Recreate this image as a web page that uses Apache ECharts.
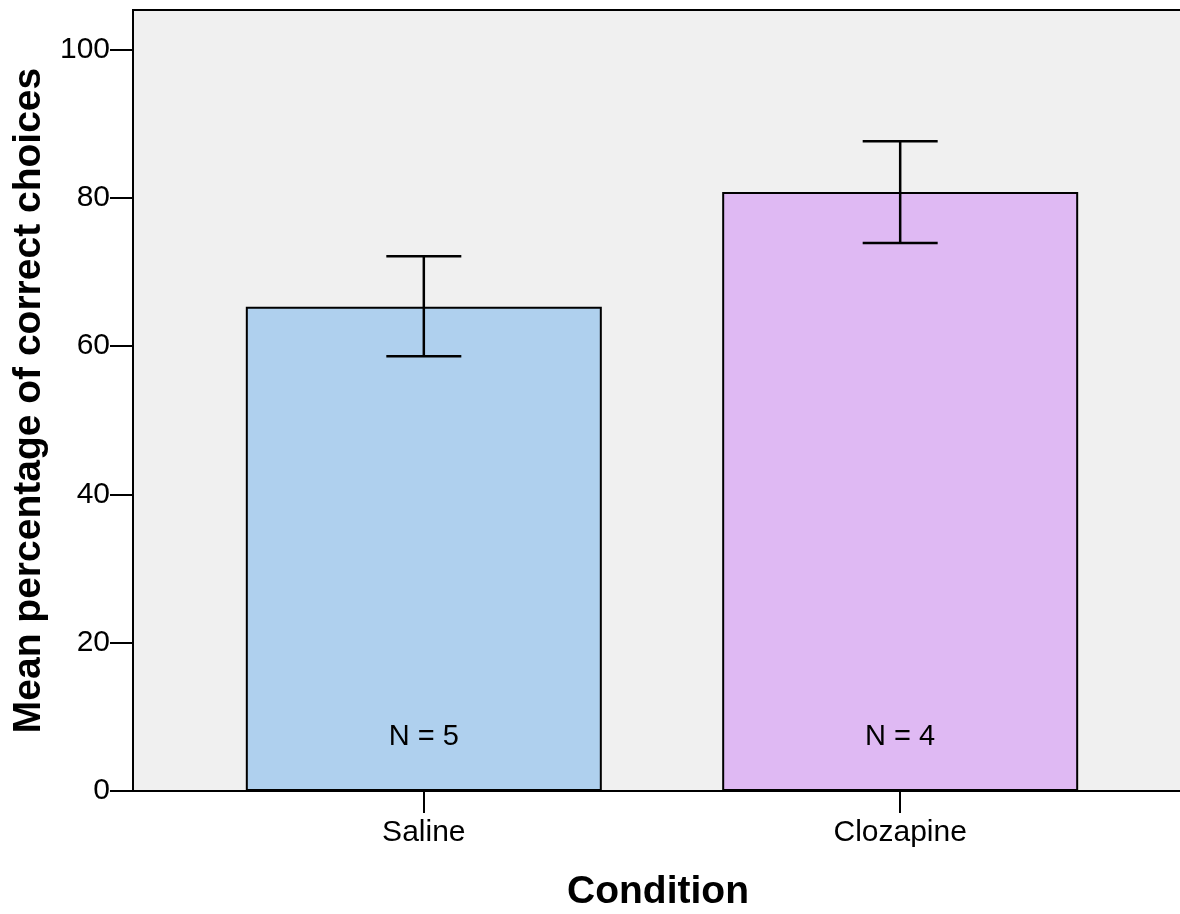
<!DOCTYPE html>
<html><head><meta charset="utf-8">
<script src="https://cdn.jsdelivr.net/npm/echarts@6/dist/echarts.min.js"></script>
<style>html,body{margin:0;padding:0;background:#fff}#c{width:1180px;height:914px}</style>
</head><body><div id="c"></div>
<script>
const categories = ['Saline', 'Clozapine'];
const means = [65.3, 80.75];
const errLow = [58.6, 73.9];
const errHigh = [72.1, 87.6];
const nLabels = ['N = 5', 'N = 4'];
const barColors = ['#AFD0EE', '#DFB9F3'];
const yTicks = [0, 20, 40, 60, 80, 100];

const chart = echarts.init(document.getElementById('c'));
const font = 'Liberation Sans, Arial, sans-serif';
const idx = categories.map((c, i) => i);
chart.setOption({
  animation: false,
  grid: { left: 133, right: -3, top: 10, bottom: 123, containLabel: false, outerBoundsMode: 'none',
          show: true, backgroundColor: '#F0F0F0', borderColor: '#000', borderWidth: 2 },
  xAxis: {
    type: 'value', min: -0.6105, max: 1.5937,
    name: 'Condition', nameLocation: 'middle', nameGap: 82,
    nameTextStyle: { fontFamily: font, fontSize: 39, fontWeight: 'bold', color: '#000' },
    splitLine: { show: false },
    axisLine: { show: true, onZero: false, lineStyle: { color: '#000', width: 2 } },
    axisTick: { show: true, length: 22, customValues: idx, lineStyle: { color: '#000', width: 2 } },
    axisLabel: { customValues: idx, formatter: v => categories[Math.round(v)], margin: 27, fontFamily: font, fontSize: 30, color: '#000' }
  },
  yAxis: {
    type: 'value', min: 0, max: 105.3,
    name: 'Mean percentage of correct choices', nameLocation: 'middle', nameGap: 81,
    nameTextStyle: { fontFamily: font, fontSize: 39, fontWeight: 'bold', color: '#000' },
    splitLine: { show: false },
    axisLine: { show: true, onZero: false, lineStyle: { color: '#000', width: 2 } },
    axisTick: { show: true, length: 23, customValues: yTicks, lineStyle: { color: '#000', width: 2 } },
    axisLabel: { customValues: yTicks, margin: 23, fontFamily: font, fontSize: 30, color: '#000' }
  },
  series: [
    {
      type: 'bar', barWidth: 356,
      data: means.map((m, i) => ({ value: [i, m], itemStyle: { color: barColors[i] } })),
      itemStyle: { borderColor: '#000', borderWidth: 2 },
      label: { show: true, position: 'insideBottom', distance: 40, formatter: p => nLabels[p.dataIndex], fontFamily: font, fontSize: 29, color: '#000' }
    },
    {
      type: 'custom',
      data: idx.map(i => [i, errLow[i], errHigh[i]]),
      renderItem: function (params, api) {
        const x = api.value(0);
        const lo = api.coord([x, api.value(1)]);
        const hi = api.coord([x, api.value(2)]);
        const hw = 37.5;
        const st = { stroke: '#000', lineWidth: 2.5 };
        return { type: 'group', children: [
          { type: 'line', shape: { x1: lo[0], y1: lo[1], x2: hi[0], y2: hi[1] }, style: st },
          { type: 'line', shape: { x1: lo[0] - hw, y1: lo[1], x2: lo[0] + hw, y2: lo[1] }, style: st },
          { type: 'line', shape: { x1: hi[0] - hw, y1: hi[1], x2: hi[0] + hw, y2: hi[1] }, style: st }
        ] };
      },
      z: 5
    }
  ]
});
</script></body></html>
